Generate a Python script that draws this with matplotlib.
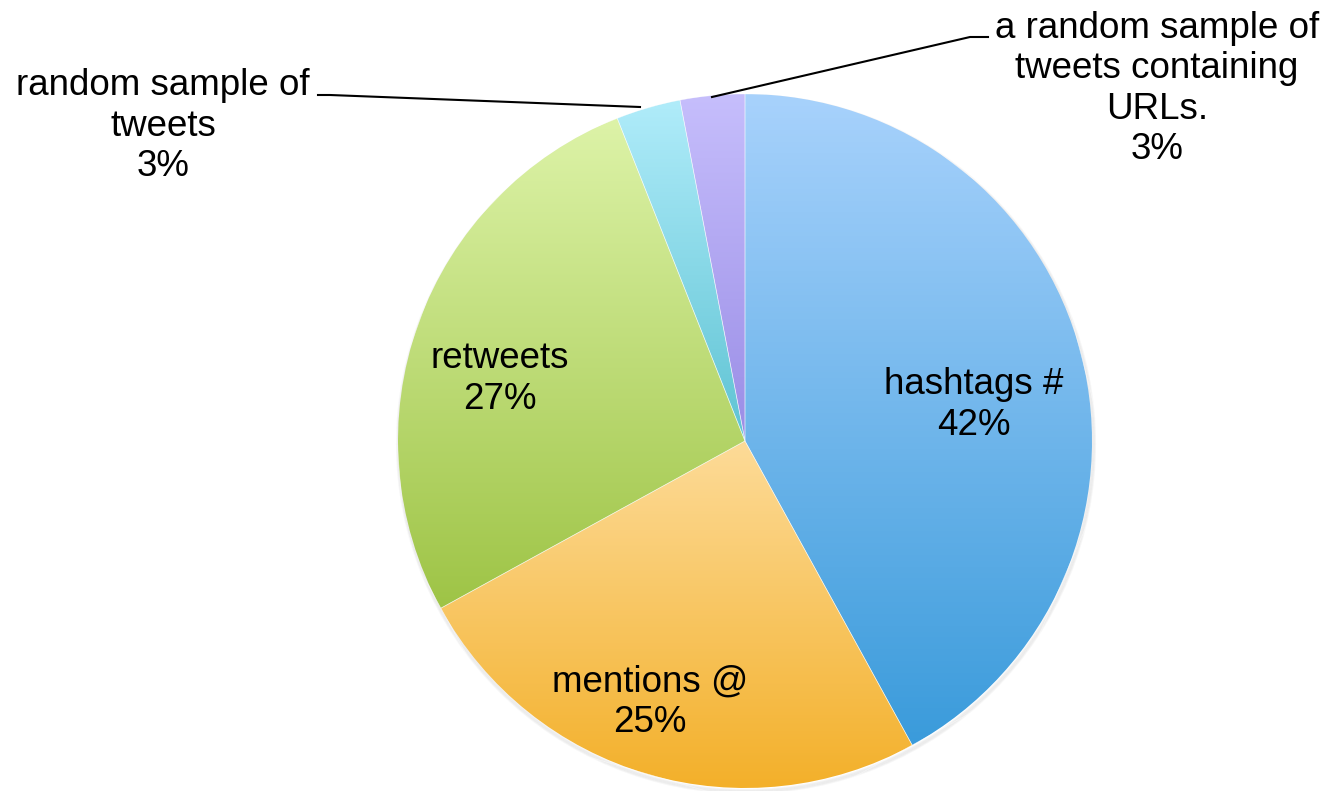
import matplotlib.pyplot as plt
import matplotlib.colors as mcolors
import numpy as np
from matplotlib.patches import Circle

plt.rcParams['font.family'] = ['Liberation Sans', 'DejaVu Sans']

labels = ['hashtags #', 'mentions @', 'retweets', 'random sample of\ntweets',
          'a random sample of\ntweets containing\nURLs.']
shares = [42, 25, 27, 3, 3]
# gradient ends per slice: (top, bottom)
top_colors = ['#a8d2fc', '#fddb98', '#ddf3a8', '#b0ecfa', '#c6befc']
bottom_colors = ['#3a9bdb', '#f3b02a', '#9ec446', '#5ec3d3', '#9a8de6']

W, H = 1328, 791
fig = plt.figure(figsize=(W / 100, H / 100), dpi=100)
ax = fig.add_axes([0, 0, 1, 1])

cx, cy, r = 745, H - 441, 347

# soft shadow under the pie, offset down
for k in range(4):
    ax.add_patch(Circle((cx + 1, cy - 3), r - 1 + k, facecolor='none',
                        edgecolor='#707070', lw=1.5, alpha=0.06, zorder=0))

wedges, _ = ax.pie(shares, center=(cx, cy), radius=r, startangle=90,
                   counterclock=False, colors=['none'] * len(shares),
                   wedgeprops=dict(edgecolor='none', linewidth=0, zorder=3))

for w, c_top, c_bot in zip(wedges, top_colors, bottom_colors):
    ext = w.get_path().get_extents()
    t = np.linspace(0, 1, 256)[:, None]
    lo = np.array(mcolors.to_rgb(c_bot))
    hi = np.array(mcolors.to_rgb(c_top))
    grad = (lo * (1 - t) + hi * t)[:, None, :]
    im = ax.imshow(grad, extent=(ext.x0, ext.x1, ext.y0, ext.y1), origin='lower',
                   aspect='auto', interpolation='bilinear', zorder=2)
    im.set_clip_path(w)
    # faint light seam along the slice border
    ax.add_patch(plt.Polygon(w.get_path().vertices, closed=True, facecolor='none',
                             edgecolor='white', lw=0.5, alpha=0.5, zorder=3))

fs = 26.5
ls = 1.2
# labels inside the big slices
ax.text(974, H - 405, labels[0] + '\n42%', ha='center', va='center', fontsize=fs,
        linespacing=ls, zorder=5)
ax.text(650, H - 702, labels[1] + '\n25%', ha='center', va='center', fontsize=fs,
        linespacing=ls, zorder=5)
ax.text(500, H - 379, labels[2] + '\n27%', ha='center', va='center', fontsize=fs,
        linespacing=ls, zorder=5)

# outside labels with leader lines
ax.text(163, H - 126, labels[3] + '\n3%', ha='center', va='center', fontsize=fs,
        linespacing=ls, zorder=5)
ax.plot([318, 330, 640], [H - 95, H - 95, H - 107], color='black', lw=1.5, zorder=4)
ax.text(1157, H - 89, labels[4] + '\n3%', ha='center', va='center', fontsize=fs,
        linespacing=ls, zorder=5)
ax.plot([988, 970, 712], [H - 37, H - 37, H - 97], color='black', lw=1.5, zorder=4)

ax.set_xlim(0, W)
ax.set_ylim(0, H)
ax.set_aspect('auto')
ax.set_axis_off()
fig.savefig('out.png', dpi=100)
